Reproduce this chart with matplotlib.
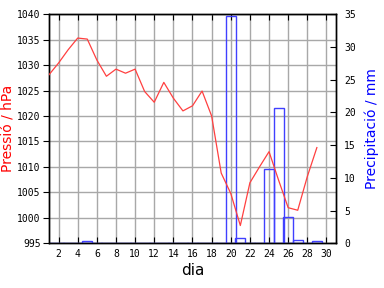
import matplotlib
matplotlib.use("Agg")
import matplotlib.pyplot as plt

days = list(range(1, 30))
pressure = [1028.1, 1030.4, 1033.0, 1035.3, 1035.1, 1031.0, 1027.8, 1029.2, 1028.4, 1029.2,
            1024.8, 1022.7, 1026.6, 1023.5, 1021.0, 1022.0, 1024.9, 1020.0, 1008.8, 1004.8,
            998.5, 1006.9, 1010.0, 1013.0, 1007.4, 1002.0, 1001.5, 1008.1, 1013.8]
precip = [0, 0, 0, 0, 0.35, 0, 0, 0, 0, 0,
          0, 0, 0, 0, 0, 0, 0, 0, 0, 34.7,
          0.8, 0, 0, 11.3, 20.7, 4.1, 0.5, 0, 0.35]

RED = "#ff4040"
BLUE = "#4040ff"
MONO = "DejaVu Sans Mono"

fig = plt.figure(figsize=(3.84, 2.88), dpi=100)
ax = fig.add_axes([0.1276, 0.155, 0.7474, 0.796])
ax2 = ax.twinx()

# pressure axis (left) carries the grid
ax.set_xlim(1, 31)
ax.set_ylim(995, 1040)
ax.set_xticks(range(2, 31, 2))
ax.set_yticks(range(995, 1041, 5))
ax.grid(True, color="#a8a8a8", linewidth=1)
ax.set_axisbelow(True)
ax.tick_params(axis="x", direction="in", top=True, length=4, pad=4,
               labelsize=7, labelfontfamily=MONO)
ax.tick_params(axis="y", direction="out", length=4, pad=2,
               labelsize=7, labelfontfamily=MONO)

# precipitation bars (right axis)
ax2.set_ylim(0, 35)
ax2.set_yticks(range(0, 36, 5))
ax2.bar(days, precip, width=1.05, fill=False, edgecolor=BLUE, linewidth=1)
ax2.tick_params(axis="y", direction="in", length=4, pad=6,
                labelsize=7, labelfontfamily=MONO)

# pressure line drawn above the bars
ax3 = ax.twinx()
ax3.set_ylim(995, 1040)
ax3.axis("off")
ax3.plot(days, pressure, color=RED, linewidth=0.9)

ax.set_xlabel("dia", fontsize=11, labelpad=3)
ax.set_ylabel("Pressió / hPa", color="red", fontsize=10, labelpad=1)
ax2.set_ylabel("Precipitació / mm", color="blue", fontsize=10, labelpad=6)

for a in (ax, ax2, ax3):
    for s in a.spines.values():
        s.set_linewidth(1)
        s.set_color("black")

fig.savefig("out.png", dpi=100)
